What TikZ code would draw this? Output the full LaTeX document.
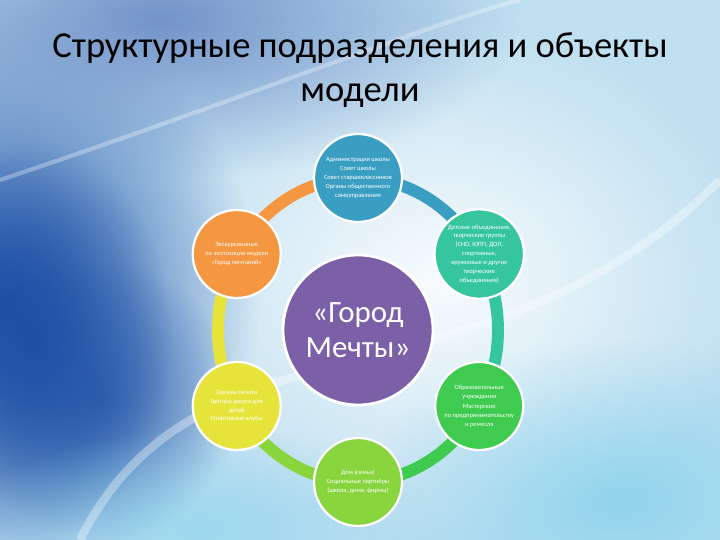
\documentclass[tikz,border=0pt]{standalone}
\usepackage{fontspec}
\setmainfont{Carlito}
\usepackage{tikz}
\usepackage{xcolor}
\usetikzlibrary{calc, fadings, positioning}

\definecolor{bgbase}{HTML}{BFE0F1}
\definecolor{bgdeep}{HTML}{1F50A6}
\definecolor{bgsteel}{HTML}{7393C9}
\definecolor{bgcyan}{HTML}{86D2EC}
\definecolor{cpurple}{HTML}{7B60A8}
\definecolor{cblue}{HTML}{3A9EC2}
\definecolor{cteal}{HTML}{36C69E}
\definecolor{cgreen}{HTML}{3ECB4F}
\definecolor{clime}{HTML}{88D53D}
\definecolor{cyellow}{HTML}{E6E43B}
\definecolor{corange}{HTML}{F59641}

\tikzfading[name=softspot, inner color=transparent!0, outer color=transparent!100]

\begin{document}
\begin{tikzpicture}[
        hub/.style={circle, draw=white, line width=2pt, fill=cpurple, minimum size=3.75cm,
            text=white, align=center, font=\fontsize{22}{25}\selectfont},
        part/.style={circle, draw=white, line width=1.6pt, minimum size=2.2cm, inner sep=1pt,
            text=white, align=center, font=\fontsize{4.6}{6.3}\selectfont},
        ring/.style={line width=8.5pt}
    ]
    \useasboundingbox (0, 0) rectangle (18, 13.5);

    % background
    \fill[bgbase] (0, 0) rectangle (18, 13.5);
    \fill[white, path fading=softspot, opacity=0.9] (11, 6.5) ellipse (8 and 6.5);
    \fill[bgdeep, path fading=softspot] (0, 6) ellipse (6.5 and 7.5);
    \fill[bgdeep, path fading=softspot] (0.8, 5) ellipse (3.5 and 5);
    \fill[bgdeep, path fading=softspot, opacity=0.7] (2.5, 3.5) ellipse (3.5 and 3.5);
    \fill[bgsteel, path fading=softspot] (4, 13) ellipse (9 and 4);
    \fill[bgcyan, path fading=softspot, opacity=0.8] (15.5, 1) ellipse (6.5 and 4);
    \fill[bgcyan, path fading=softspot, opacity=0.6] (5, 0.3) ellipse (6 and 2.5);
    \draw[white, opacity=0.35, line width=6pt] (2, 0) .. controls (5, 6) and (12, 3) .. (18, 9);
    \draw[white, opacity=0.3, line width=3pt] (0, 9) .. controls (6, 11) and (11, 13) .. (13, 13.5);

    % title
    \node[anchor=base] (title1) at (9, 12.05) {\fontsize{26}{30}\selectfont Структурные подразделения и объекты};
    \node[anchor=base] (title2) at (9, 10.95) {\fontsize{26}{30}\selectfont модели};

    % ring
    \coordinate (C) at (8.95, 5.25);
    \path (C) ++(90:3.5cm and 3.8cm) coordinate (pT);
    \path (C) ++(30:3.5cm and 3.8cm) coordinate (pTR);
    \path (C) ++(-30:3.5cm and 3.8cm) coordinate (pBR);
    \path (C) ++(-90:3.5cm and 3.8cm) coordinate (pB);
    \path (C) ++(-150:3.5cm and 3.8cm) coordinate (pBL);
    \path (C) ++(150:3.5cm and 3.8cm) coordinate (pTL);

    \draw[ring, cblue] (pT) arc[start angle=90, end angle=30, x radius=3.5cm, y radius=3.8cm];
    \draw[ring, cteal] (pTR) arc[start angle=30, end angle=-30, x radius=3.5cm, y radius=3.8cm];
    \draw[ring, cgreen] (pBR) arc[start angle=-30, end angle=-90, x radius=3.5cm, y radius=3.8cm];
    \draw[ring, clime] (pB) arc[start angle=-90, end angle=-150, x radius=3.5cm, y radius=3.8cm];
    \draw[ring, cyellow] (pBL) arc[start angle=210, end angle=150, x radius=3.5cm, y radius=3.8cm];
    \draw[ring, corange] (pTL) arc[start angle=150, end angle=90, x radius=3.5cm, y radius=3.8cm];

    % circles
    \node[hub] (city) at (C) {«Город\\Мечты»};
    \node[part, fill=cblue] (admin) at (pT) {Администрация школы\\Совет школы\\Совет старшеклассников\\Органы общественного\\самоуправления};
    \node[part, fill=cteal] (clubs) at (pTR) {Детские объединения,\\творческие группы\\(СНО, ЮПП, ДОЛ,\\спортивные,\\кружковые и другие\\творческие\\объединения)};
    \node[part, fill=cgreen] (school) at (pBR) {Образовательные\\учреждения\\[1pt]Мастерские\\по предпринимательству\\и ремесла};
    \node[part, fill=clime] (home) at (pB) {Дом (семья)\\Социальные партнёры\\(школа, дома, фирмы)};
    \node[part, fill=cyellow] (press) at (pBL) {Органы печати\\Центры досуга для\\детей\\Спортивные клубы};
    \node[part, fill=corange] (tours) at (pTL) {Экскурсионные\\по экспозиции модели\\«Город мечтаний»};
\end{tikzpicture}
\end{document}
